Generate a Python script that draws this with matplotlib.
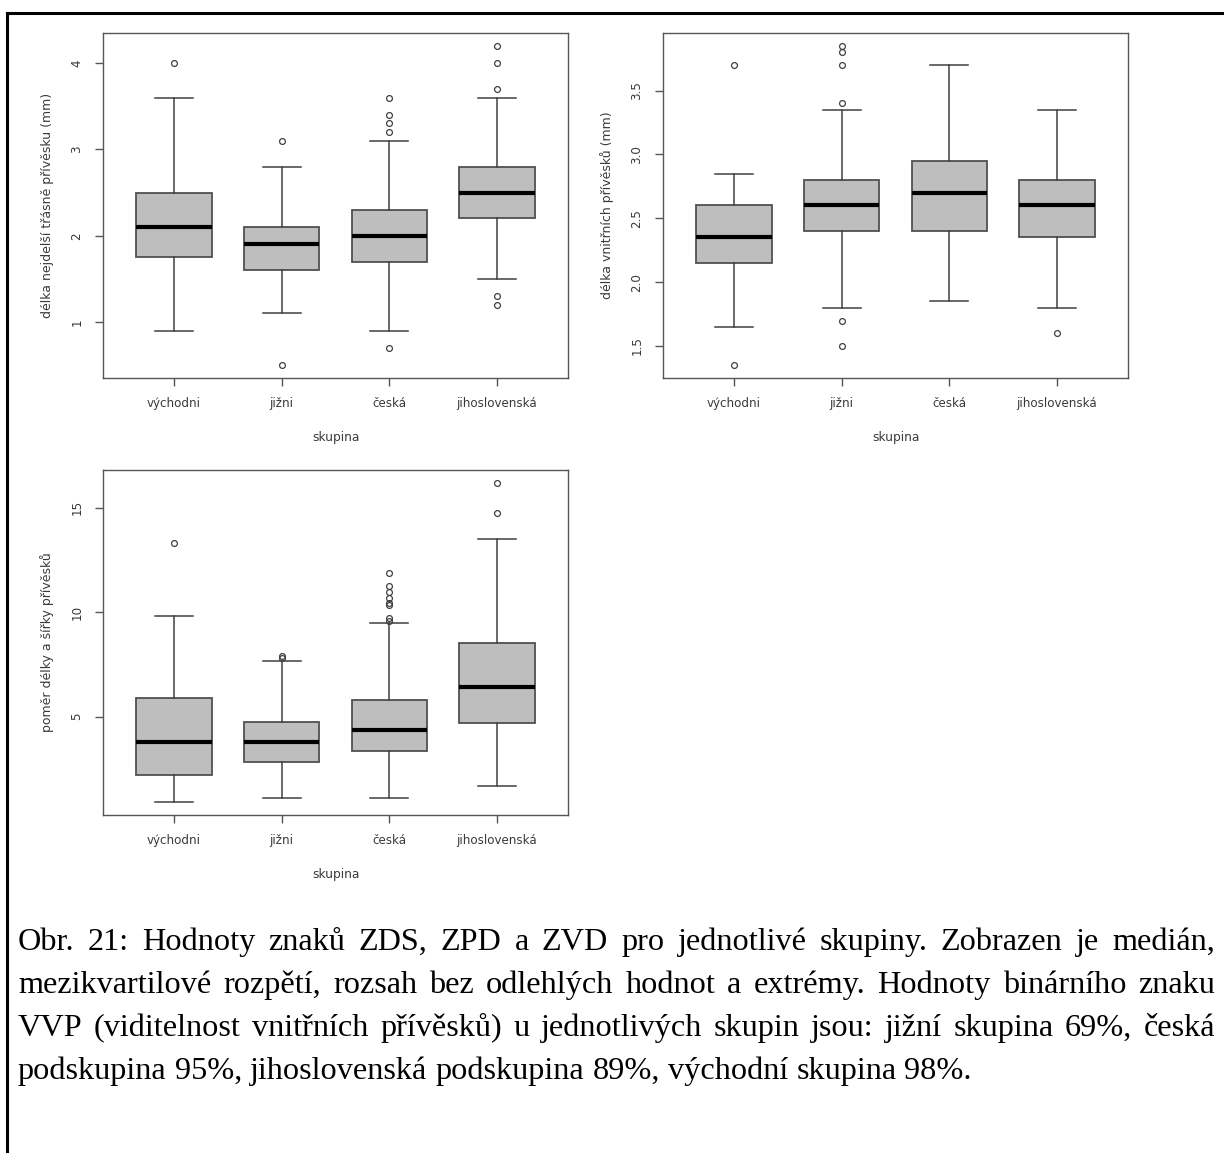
import matplotlib
matplotlib.use("Agg")
import matplotlib.pyplot as plt
from matplotlib.lines import Line2D

# ---------------- data ----------------
groups = ["východni", "jižni", "česká", "jihoslovenská"]

# Panel 1: délka nejdelší třásně přívěsku (mm)
p1_whislo = [0.9, 1.1, 0.9, 1.5]
p1_q1 = [1.75, 1.6, 1.7, 2.2]
p1_med = [2.1, 1.9, 2.0, 2.5]
p1_q3 = [2.5, 2.1, 2.3, 2.8]
p1_whishi = [3.6, 2.8, 3.1, 3.6]
p1_fliers = [[4.0], [3.1, 0.5], [3.6, 3.4, 3.3, 3.2, 0.7], [4.2, 4.0, 3.7, 1.3, 1.2]]
p1_ticks = [1, 2, 3, 4]
p1_ticklabels = ["1", "2", "3", "4"]
p1_ylabel = "délka nejdelší třásně přívěsku (mm)"

# Panel 2: délka vnitřních přívěsků (mm)
p2_whislo = [1.65, 1.8, 1.85, 1.8]
p2_q1 = [2.15, 2.4, 2.4, 2.35]
p2_med = [2.35, 2.6, 2.7, 2.6]
p2_q3 = [2.6, 2.8, 2.95, 2.8]
p2_whishi = [2.85, 3.35, 3.7, 3.35]
p2_fliers = [[3.7, 1.35], [3.85, 3.8, 3.7, 3.4, 1.7, 1.5], [], [1.6]]
p2_ticks = [1.5, 2.0, 2.5, 3.0, 3.5]
p2_ticklabels = ["1.5", "2.0", "2.5", "3.0", "3.5"]
p2_ylabel = "délka vnitřních přívěsků (mm)"

# Panel 3: poměr délky a šířky přívěsků
p3_whislo = [0.9, 1.1, 1.1, 1.7]
p3_q1 = [2.2, 2.85, 3.35, 4.7]
p3_med = [3.8, 3.8, 4.35, 6.4]
p3_q3 = [5.9, 4.75, 5.8, 8.55]
p3_whishi = [9.8, 7.65, 9.5, 13.5]
p3_fliers = [[13.3], [7.9, 7.8], [11.9, 11.25, 10.95, 10.7, 10.45, 10.35, 9.7, 9.6], [16.2, 14.75]]
p3_ticks = [5, 10, 15]
p3_ticklabels = ["5", "10", "15"]
p3_ylabel = "poměr délky a šířky přívěsků"

xlabel = "skupina"

caption_lines = [
    "Obr. 21: Hodnoty znaků ZDS, ZPD a ZVD pro jednotlivé skupiny. Zobrazen je medián,",
    "mezikvartilové rozpětí, rozsah bez odlehlých hodnot a extrémy. Hodnoty binárního znaku",
    "VVP (viditelnost vnitřních přívěsků) u jednotlivých skupin jsou: jižní skupina 69%, česká",
    "podskupina 95%, jihoslovenská podskupina 89%, východní skupina 98%.",
]

# ---------------- figure ----------------
W, H = 1224, 1153
DPI = 100
fig = plt.figure(figsize=(W / DPI, H / DPI), dpi=DPI)
fig.patch.set_facecolor("white")

AX_COL = "#555555"
TXT_COL = "#3a3a3a"


def px_axes(x0, y0, x1, y1):
    return fig.add_axes([x0 / W, 1 - y1 / H, (x1 - x0) / W, (y1 - y0) / H])


def panel(ax, whislo, q1, med, q3, whishi, fliers, ticks, ticklabels, ylabel):
    stats = []
    for i in range(len(groups)):
        stats.append(dict(whislo=whislo[i], q1=q1[i], med=med[i], q3=q3[i],
                          whishi=whishi[i], fliers=fliers[i], label=groups[i]))
    ax.bxp(stats, positions=[1, 2, 3, 4], widths=0.7, patch_artist=True,
           showfliers=True,
           boxprops=dict(facecolor="#bebebe", edgecolor="#505050", linewidth=1.3),
           medianprops=dict(color="black", linewidth=3.0, solid_capstyle="butt"),
           whiskerprops=dict(color="#404040", linewidth=1.1),
           capprops=dict(color="#404040", linewidth=1.1),
           capwidths=0.35,
           flierprops=dict(marker="o", markersize=4.2, markerfacecolor="none",
                           markeredgecolor="#404040", markeredgewidth=0.9))
    allv = list(whislo) + list(whishi) + [v for f in fliers for v in f]
    lo, hi = min(allv), max(allv)
    r = hi - lo
    ax.set_ylim(lo - 0.04 * r, hi + 0.04 * r)
    ax.set_xlim(0.34, 4.66)
    ax.set_yticks(ticks)
    ax.set_yticklabels(ticklabels, rotation=90, va="center")
    ax.set_xticks([1, 2, 3, 4])
    ax.set_xticklabels(groups)
    for s in ax.spines.values():
        s.set_color(AX_COL)
        s.set_linewidth(1.0)
    ax.tick_params(axis="both", direction="out", length=6, width=1.0,
                   color=AX_COL, labelcolor=TXT_COL, labelsize=8.6)
    ax.tick_params(axis="x", pad=8)
    ax.tick_params(axis="y", pad=8)
    ax.set_xlabel(xlabel, fontsize=8.8, color=TXT_COL, labelpad=15)
    ax.set_ylabel(ylabel, fontsize=9.0, color=TXT_COL, labelpad=12)


ax1 = px_axes(103, 33, 568, 378)
panel(ax1, p1_whislo, p1_q1, p1_med, p1_q3, p1_whishi, p1_fliers,
      p1_ticks, p1_ticklabels, p1_ylabel)
ax2 = px_axes(663, 33, 1128, 378)
panel(ax2, p2_whislo, p2_q1, p2_med, p2_q3, p2_whishi, p2_fliers,
      p2_ticks, p2_ticklabels, p2_ylabel)
ax3 = px_axes(103, 470, 568, 815)
panel(ax3, p3_whislo, p3_q1, p3_med, p3_q3, p3_whishi, p3_fliers,
      p3_ticks, p3_ticklabels, p3_ylabel)

# ---------------- border (document frame) ----------------
fig.add_artist(Line2D([7 / W, 7 / W], [1 - 13 / H, 0], color="black",
                      linewidth=2.2, transform=fig.transFigure))
fig.add_artist(Line2D([7 / W, 1], [1 - 13 / H, 1 - 13 / H], color="black",
                      linewidth=2.2, transform=fig.transFigure))

# ---------------- caption (justified) ----------------
renderer = fig.canvas.get_renderer()
CAP_FS = 23.2
cap_x0, cap_x1 = 18, 1215
baselines = [950, 993, 1036, 1079]
for li, line in enumerate(caption_lines):
    words = line.split(" ")
    texts = []
    widths = []
    for w in words:
        t = fig.text(0, 0, w, fontsize=CAP_FS, family="Liberation Serif",
                     color="black", ha="left", va="baseline")
        texts.append(t)
        widths.append(t.get_window_extent(renderer).width)
    justify = li < len(caption_lines) - 1
    if justify:
        gap = (cap_x1 - cap_x0 - sum(widths)) / (len(words) - 1)
    else:
        sp = fig.text(0, 0, "a a", fontsize=CAP_FS, family="Liberation Serif")
        sp2 = fig.text(0, 0, "aa", fontsize=CAP_FS, family="Liberation Serif")
        gap = sp.get_window_extent(renderer).width - sp2.get_window_extent(renderer).width
        sp.remove()
        sp2.remove()
    x = cap_x0
    for t, wdt in zip(texts, widths):
        t.set_position((x / W, 1 - baselines[li] / H))
        x += wdt + gap

fig.savefig("out.png", dpi=DPI)
